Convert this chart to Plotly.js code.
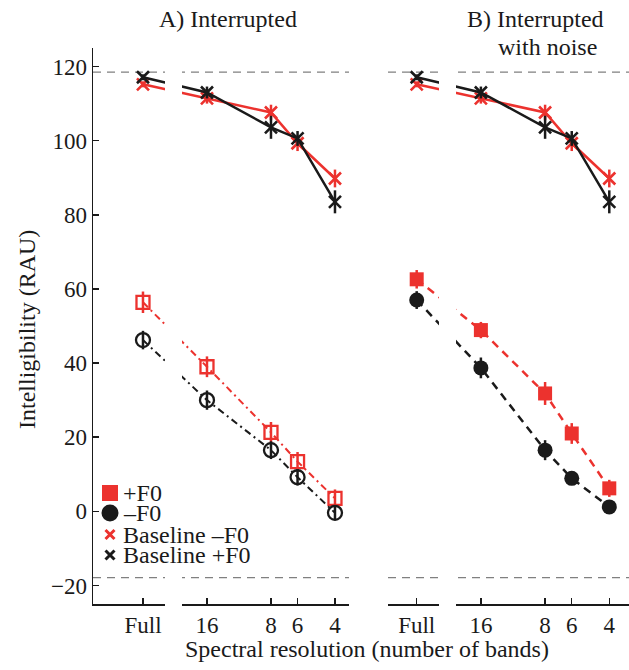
<!DOCTYPE html>
<html>
<head>
<meta charset="utf-8">
<script src="https://cdn.plot.ly/plotly-3.0.1.min.js"></script>
<style>html,body{margin:0;padding:0;background:#fff;}#chart{width:629px;height:670px;}</style>
</head>
<body>
<div id="chart"></div>
<script>
// ---- data ----
const bands = [32, 16, 8, 6, 4];            // 32 plays the role of "Full"
const tickLabels = ['Full', '16', '8', '6', '4'];
const yTicks = [-20, 0, 20, 40, 60, 80, 100, 120];

const baselineMinusF0    = [115.2, 111.4, 107.6, 99.3, 89.8];
const baselineMinusF0Err = [0.8, 1.4, 2.1, 2.1, 2.4];
const baselinePlusF0     = [117.1, 113.0, 103.6, 100.6, 83.5];
const baselinePlusF0Err  = [0.8, 1.6, 3.1, 2.0, 3.1];

const interruptedPlusF0     = [56.4, 39.0, 21.3, 13.4, 3.5];
const interruptedPlusF0Err  = [2.9, 2.8, 2.8, 2.6, 2.4];
const interruptedMinusF0    = [46.2, 30.0, 16.5, 9.2, -0.4];
const interruptedMinusF0Err = [2.5, 2.6, 2.4, 2.2, 2.0];

const noisePlusF0     = [62.6, 48.9, 31.8, 21.0, 6.2];
const noisePlusF0Err  = [2.5, 2.2, 3.1, 2.8, 2.3];
const noiseMinusF0    = [57.0, 38.7, 16.5, 8.9, 1.2];
const noiseMinusF0Err = [2.4, 2.8, 2.7, 1.5, 1.5];

const refLines = [118.5, -17.9];
const legendLabels = ['+F0', '\u2013F0', 'Baseline \u2013F0', 'Baseline +F0'];

// ---- style ----
const RED = 'rgb(236,50,46)';
const BLACK = '#1a1a1a';
const AX = '#1a1a1a';
const FONT = 'Liberation Serif';

function series(xa, y, err, color, symbol, size, mlw, dash, lw) {
  return {
    type: 'scatter', mode: 'lines+markers', x: bands, y: y, xaxis: xa, yaxis: 'y',
    line: {color: color, width: lw, dash: dash},
    marker: {symbol: symbol, size: size, color: color, line: {color: color, width: mlw}},
    error_y: {type: 'data', array: err, visible: true, color: color, thickness: 2.5, width: 0},
    showlegend: false, hoverinfo: 'skip', cliponaxis: false
  };
}

const traces = [];
['x', 'x2'].forEach(function (xa) {
  traces.push(series(xa, baselineMinusF0, baselineMinusF0Err, RED, 'x-thin-open', 12, 2.6, 'solid', 2.5));
  traces.push(series(xa, baselinePlusF0, baselinePlusF0Err, BLACK, 'x-thin-open', 12, 2.6, 'solid', 2.5));
});
traces.push(series('x', interruptedPlusF0, interruptedPlusF0Err, RED, 'square-open', 13, 2.3, '7px,4px,2px,4px', 2));
traces.push(series('x', interruptedMinusF0, interruptedMinusF0Err, BLACK, 'circle-open', 14, 2.3, '7px,4px,2px,4px', 2));
traces.push(series('x2', noisePlusF0, noisePlusF0Err, RED, 'square', 14, 0, '8px,6px', 2.5));
traces.push(series('x2', noiseMinusF0, noiseMinusF0Err, BLACK, 'circle', 15, 0, '8px,6px', 2.5));

// hand-built legend on a hidden pixel-like axis pair
const legX = [110, 110, 110, 110];
const legY = [493, 513, 534.5, 555];
const legSymbols = ['square', 'circle', 'x-thin-open', 'x-thin-open'];
const legColors = [RED, BLACK, RED, BLACK];
const legSizes = [13, 14, 9, 9];
for (let i = 0; i < legendLabels.length; i++) {
  traces.push({
    type: 'scatter', mode: 'markers', x: [legX[i]], y: [legY[i]], xaxis: 'x3', yaxis: 'y3',
    marker: {symbol: legSymbols[i], size: legSizes[i], color: legColors[i], line: {color: legColors[i], width: 3}},
    showlegend: false, hoverinfo: 'skip', cliponaxis: false
  });
}

const L = 93, T = 48, B = 66, W = 629, H = 670;
const pw = W - L, ph = H - T - B;
const px2x = function (p) { return (p - L) / pw; };
const px2y = function (p) { return (H - B - p) / ph; };
const log2to10 = function (v) { return v * Math.LOG10E * Math.LN2; };

const baseX = {
  type: 'log', showgrid: false, zeroline: false, showline: true, linecolor: AX, linewidth: 1.5,
  ticks: 'inside', ticklen: 6, tickwidth: 1.5, tickcolor: AX,
  tickvals: bands, ticktext: tickLabels, tickfont: {family: FONT, size: 23, color: AX},
  anchor: 'y', fixedrange: true
};

const titleFont = {family: FONT, size: 24, color: AX};
const annotations = [
  {text: 'A) Interrupted', x: px2x(228), y: px2y(19), xref: 'paper', yref: 'paper', showarrow: false, xanchor: 'center', yanchor: 'middle', font: titleFont},
  {text: 'B) Interrupted', x: px2x(535), y: px2y(19), xref: 'paper', yref: 'paper', showarrow: false, xanchor: 'center', yanchor: 'middle', font: titleFont},
  {text: 'with noise', x: px2x(547), y: px2y(47), xref: 'paper', yref: 'paper', showarrow: false, xanchor: 'center', yanchor: 'middle', font: titleFont},
  {text: 'Spectral resolution (number of bands)', x: px2x(367), y: px2y(649), xref: 'paper', yref: 'paper', showarrow: false, xanchor: 'center', yanchor: 'middle', font: titleFont},
  {text: 'Intelligibility (RAU)', x: px2x(27), y: px2y(330), xref: 'paper', yref: 'paper', showarrow: false, xanchor: 'center', yanchor: 'middle', textangle: -90, font: titleFont}
];
for (let i = 0; i < legendLabels.length; i++) {
  annotations.push({text: legendLabels[i], x: 121, y: legY[i], xref: 'x3', yref: 'y3', showarrow: false, xanchor: 'left', yanchor: 'middle', font: titleFont});
}

const shapes = [];
['x', 'x2'].forEach(function (xa) {
  refLines.forEach(function (v) {
    shapes.push({type: 'line', xref: xa + ' domain', yref: 'y', x0: 0, x1: 1, y0: v, y1: v, layer: 'below', line: {color: '#808080', width: 1.2, dash: '8px,6px'}});
  });
});
// axis breaks (white gaps)
[[165, 182], [439, 456]].forEach(function (g) {
  shapes.push({type: 'rect', xref: 'paper', yref: 'paper', x0: px2x(g[0]), x1: px2x(g[1]), y0: -0.02, y1: 1.0, fillcolor: '#ffffff', line: {width: 0}, layer: 'above'});
});

const layout = {
  width: W, height: H,
  margin: {l: L, r: 0, t: T, b: B, pad: 0},
  paper_bgcolor: '#ffffff', plot_bgcolor: 'rgba(0,0,0,0)',
  showlegend: false,
  font: {family: FONT, size: 23, color: AX},
  xaxis: Object.assign({}, baseX, {domain: [0, px2x(349)], range: [log2to10(5.781), log2to10(1.781)]}),
  xaxis2: Object.assign({}, baseX, {domain: [px2x(388), 1], range: [log2to10(5.447), log2to10(1.693)]}),
  yaxis: {
    range: [-25, 125], tickvals: yTicks, showgrid: false, zeroline: false, showline: true,
    linecolor: AX, linewidth: 1.5, ticks: 'inside', ticklen: 6, tickwidth: 1.5, tickcolor: AX,
    tickfont: {family: FONT, size: 23, color: AX}, anchor: 'x', fixedrange: true
  },
  xaxis3: {domain: [0, 1], range: [L, W], visible: false, anchor: 'y3', fixedrange: true},
  yaxis3: {domain: [0, 1], range: [H - B, T], visible: false, anchor: 'x3', fixedrange: true},
  annotations: annotations,
  shapes: shapes
};

Plotly.newPlot('chart', traces, layout, {staticPlot: true, displayModeBar: false});
</script>
</body>
</html>
